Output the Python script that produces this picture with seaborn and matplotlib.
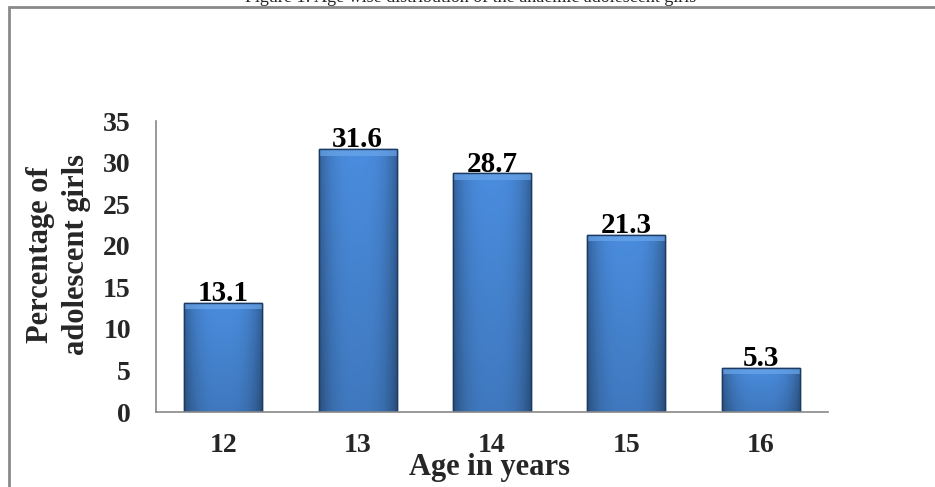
import numpy as np
import pandas as pd
import matplotlib
matplotlib.use('Agg')
import matplotlib.pyplot as plt
import matplotlib.patches as mpatches
import seaborn as sns

# data
ages = ['12', '13', '14', '15', '16']
percentages = [13.1, 31.6, 28.7, 21.3, 5.3]

df = pd.DataFrame({'age': ages, 'pct': percentages})

sns.set_style('white')
plt.rcParams['font.family'] = ['Liberation Serif', 'DejaVu Serif']
plt.rcParams['font.weight'] = 'bold'

fig = plt.figure(figsize=(9.35, 4.87), dpi=100)
ax = fig.add_axes([0.1668, 0.154, 0.7188, 0.5975])

sns.barplot(data=df, x='age', y='pct', ax=ax, color='#3b76c2', width=0.58,
            edgecolor='#1c3a62', linewidth=1.0, saturation=1)

# soft gradient on each bar to mimic the bevelled office style
ny, nx = 50, 50
yy, xx = np.mgrid[0:1:ny * 1j, 0:1:nx * 1j]
edge = np.abs(xx - 0.5) * 2
shade = 0.85 - 0.25 * edge ** 3 - 0.12 * yy
light = np.array([0.29, 0.55, 0.87])
img = np.clip(shade[..., None] * light[None, None, :] / 0.85, 0, 1)
for p in ax.patches:
    x0, y0 = p.get_x(), p.get_y()
    w, h = p.get_width(), p.get_height()
    im = ax.imshow(img, extent=[x0, x0 + w, y0, y0 + h], origin='upper',
                   aspect='auto', zorder=p.get_zorder() + 0.1)
    im.set_clip_path(p)
    # top bevel highlight
    bev = mpatches.Rectangle((x0, y0 + h - 0.75), w, 0.75, facecolor='#6aa6ea',
                             edgecolor='none', alpha=0.7, zorder=p.get_zorder() + 0.2)
    ax.add_patch(bev)
    outline = mpatches.Rectangle((x0, y0), w, h, facecolor='none', edgecolor='#1c3a62',
                                 linewidth=1.0, zorder=p.get_zorder() + 0.3)
    ax.add_patch(outline)

ax.bar_label(ax.containers[0], labels=[f'{v:.1f}' for v in percentages],
             padding=-3, fontsize=21, fontweight='bold', color='black', zorder=5)

ax.set_xlim(-0.5, 4.5)
ax.set_ylim(0, 35)
ax.set_yticks(range(0, 36, 5))
ax.tick_params(axis='y', length=8, width=1, color='#888888', labelsize=20, pad=10)
ax.tick_params(axis='x', length=0, labelsize=20, pad=15)
for lab in ax.get_xticklabels() + ax.get_yticklabels():
    lab.set_fontweight('bold')

for s in ['top', 'right']:
    ax.spines[s].set_visible(False)
for s in ['left', 'bottom']:
    ax.spines[s].set_color('#888888')
    ax.spines[s].set_linewidth(1.2)

ax.set_xlabel('Age in years', fontsize=22, fontweight='bold', va='baseline')
ax.xaxis.set_label_coords(0.497, -0.215)
ax.set_ylabel('Percentage of\nadolescent girls', fontsize=22, fontweight='bold',
              va='center', ha='center', linespacing=1.3)
ax.yaxis.set_label_coords(-0.145, 0.54)

# frame of the document figure box
frame = mpatches.Rectangle((9 / 935, -0.05), 1.05, 1 - 7 / 487 + 0.05,
                           transform=fig.transFigure, fill=False,
                           edgecolor='#8a8a8a', linewidth=2.0, clip_on=False)
fig.patches.append(frame)

# caption, mostly cut off at the top of the crop
fig.text(0.503, 1 - 1.5 / 487, 'Figure 1: Age wise distribution of the anaemic adolescent girls',
         ha='center', va='baseline', fontsize=13, fontweight='normal')

fig.savefig('out.png', dpi=100)
